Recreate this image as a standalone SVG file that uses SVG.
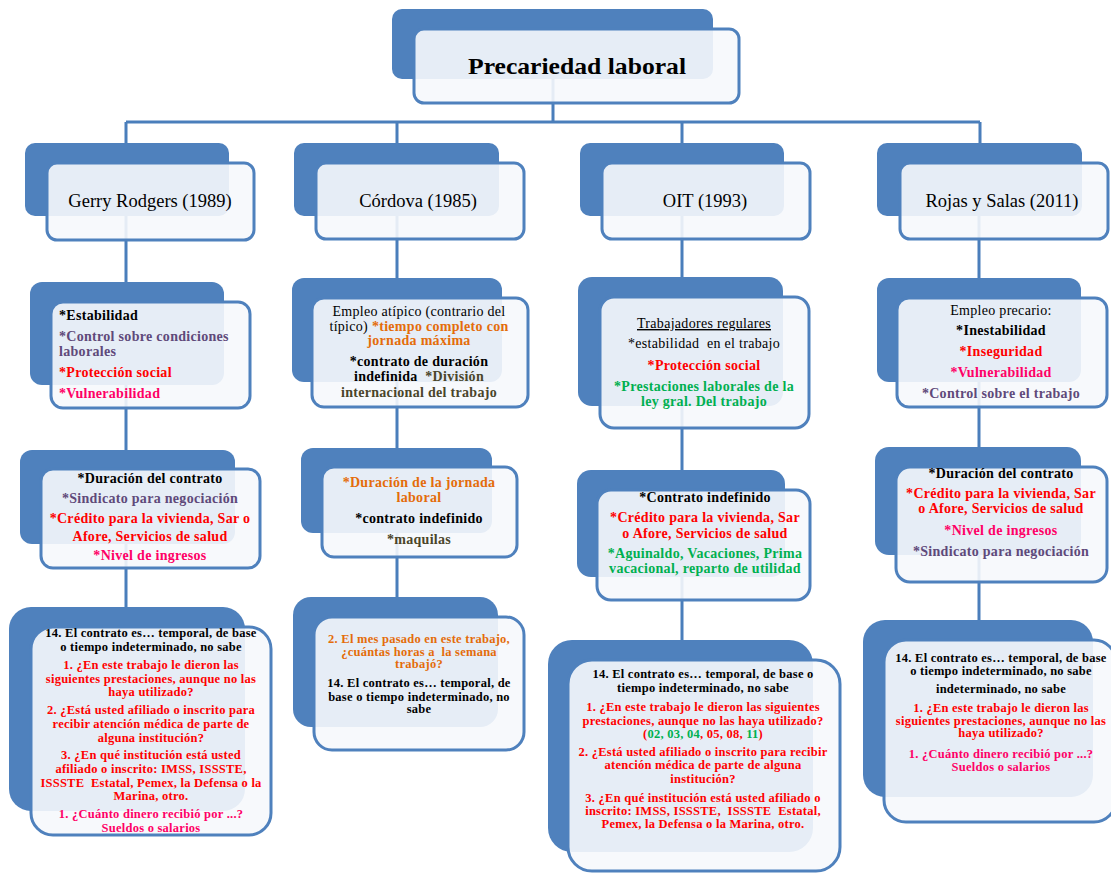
<svg xmlns="http://www.w3.org/2000/svg" width="1111" height="873" viewBox="0 0 1111 873">
<style>
.back{fill:#4F81BD}
.front{fill:#F6F8FC;fill-opacity:0.9;stroke:#4F81BD;stroke-width:3}
.conn{stroke:#4A7EBB;stroke-width:3;fill:none}
text{font-family:"Liberation Serif","Times New Roman",serif;fill:#000}
.c{text-anchor:middle}
.b{font-weight:bold}
.s{font-size:14px;letter-spacing:0.3px}
.x{font-size:12.5px;letter-spacing:0.25px}
.h{font-size:18.5px}
.k{fill:#000}
.pu{fill:#5F497A}
.r{fill:#FF0000}
.pk{fill:#FF0066}
.o{fill:#E46C0A}
.g{fill:#00B050}
.ol{fill:#4A452A}
</style>
<rect width="1111" height="873" fill="#ffffff"/>
<g id="connectors">
<path class="conn" d="M553 79V122M126 122H980M126 122V143M397 122V143M682 122V143M980 122V143"/>
<path class="conn" d="M126 216V282M126 385V450M126 544V607"/>
<path class="conn" d="M397 216V278M397 382V448M397 533V597"/>
<path class="conn" d="M682 216V277M682 406V470M682 577V640"/>
<path class="conn" d="M979 216V278M979 382V447M979 555V620"/>
</g>
<g id="root">
<rect class="back" x="392" y="9" width="321" height="70" rx="10"/>
<rect class="front" x="414" y="29" width="325" height="74" rx="10"/>
<text class="b c" x="577" y="74" font-size="24" textLength="218" lengthAdjust="spacingAndGlyphs">Precariedad laboral</text>
</g>
<g id="rodgers">
<rect class="back" x="25" y="143" width="204" height="73" rx="10"/>
<rect class="front" x="47" y="163" width="207" height="77" rx="10"/>
<text class="c h" x="150" y="207">Gerry Rodgers (1989)</text>
</g>
<g id="cordova">
<rect class="back" x="294" y="143" width="205" height="73" rx="10"/>
<rect class="front" x="316" y="163" width="208" height="76" rx="10"/>
<text class="c h" x="418" y="207">Córdova (1985)</text>
</g>
<g id="oit">
<rect class="back" x="580" y="143" width="204" height="73" rx="10"/>
<rect class="front" x="602" y="163" width="208" height="76" rx="10"/>
<text class="c h" x="705" y="207">OIT (1993)</text>
</g>
<g id="rojas">
<rect class="back" x="877" y="143" width="205" height="73" rx="10"/>
<rect class="front" x="900" y="163" width="208" height="76" rx="10"/>
<text class="c h" x="1002" y="207">Rojas y Salas (2011)</text>
</g>

<g id="rodgers-dim">
<rect class="back" x="30" y="282" width="194" height="103" rx="12"/>
<rect class="front" x="51" y="302" width="199" height="106" rx="12"/>
<text class="b s k" x="59" y="320">*Estabilidad</text>
<text class="b s pu" x="59" y="341">*Control sobre condiciones</text>
<text class="b s pu" x="59" y="356">laborales</text>
<text class="b s r" x="59" y="377">*Protección social</text>
<text class="b s pk" x="59" y="398">*Vulnerabilidad</text>
</g>
<g id="rodgers-ind">
<rect class="back" x="20" y="450" width="215" height="94" rx="12"/>
<rect class="front" x="41" y="469" width="219" height="99" rx="12"/>
<text class="b s c k" x="150" y="483">*Duración del contrato</text>
<text class="b s c pu" x="150" y="503">*Sindicato para negociación</text>
<text class="b s c r" x="150" y="523">*Crédito para la vivienda, Sar o</text>
<text class="b s c r" x="150" y="541">Afore, Servicios de salud</text>
<text class="b s c pk" x="150" y="560">*Nivel de ingresos</text>
</g>
<g id="rodgers-q">
<rect class="back" x="9" y="607" width="236" height="204" rx="22"/>
<rect class="front" x="31" y="627" width="240" height="208" rx="22"/>
<text class="b x c k" x="151" y="637">14. El contrato es… temporal, de base</text>
<text class="b x c k" x="151" y="651">o tiempo indeterminado, no sabe</text>
<text class="b x c r" x="151" y="669">1. ¿En este trabajo le dieron las</text>
<text class="b x c r" x="151" y="683">siguientes prestaciones, aunque no las</text>
<text class="b x c r" x="151" y="696">haya utilizado?</text>
<text class="b x c r" x="151" y="714">2. ¿Está usted afiliado o inscrito para</text>
<text class="b x c r" x="151" y="728">recibir atención médica de parte de</text>
<text class="b x c r" x="151" y="742">alguna institución?</text>
<text class="b x c r" x="151" y="759">3. ¿En qué institución está usted</text>
<text class="b x c r" x="151" y="773">afiliado o inscrito: IMSS, ISSSTE,</text>
<text class="b x c r" x="151" y="787">ISSSTE &#160;Estatal, Pemex, la Defensa o la</text>
<text class="b x c r" x="151" y="800">Marina, otro.</text>
<text class="b x c pk" x="151" y="818">1. ¿Cuánto dinero recibió por ...?</text>
<text class="b x c pk" x="151" y="832">Sueldos o salarios</text>
</g>

<g id="cordova-dim">
<rect class="back" x="292" y="278" width="210" height="104" rx="12"/>
<rect class="front" x="312" y="298" width="216" height="109" rx="12"/>
<text class="c s" x="419" y="316">Empleo atípico (contrario del</text>
<text class="c s" x="419" y="331">típico) <tspan class="b o">*tiempo completo con</tspan></text>
<text class="c s b o" x="419" y="345">jornada máxima</text>
<text class="c s b k" x="419" y="366">*contrato de duración</text>
<text class="c s b" x="419" y="381">indefinida &#160;<tspan class="ol">*División</tspan></text>
<text class="c s b ol" x="419" y="397">internacional del trabajo</text>
</g>
<g id="cordova-ind">
<rect class="back" x="301" y="448" width="191" height="85" rx="12"/>
<rect class="front" x="322" y="467" width="195" height="90" rx="12"/>
<text class="c s b o" x="419" y="487">*Duración de la jornada</text>
<text class="c s b o" x="419" y="502">laboral</text>
<text class="c s b k" x="419" y="523">*contrato indefinido</text>
<text class="c s b ol" x="419" y="544">*maquilas</text>
</g>
<g id="cordova-q">
<rect class="back" x="293" y="597" width="205" height="130" rx="18"/>
<rect class="front" x="314" y="617" width="210" height="133" rx="18"/>
<text class="b x c o" x="419" y="643">2. El mes pasado en este trabajo,</text>
<text class="b x c o" x="419" y="656">¿cuántas horas a &#160;la semana</text>
<text class="b x c o" x="419" y="668">trabajó?</text>
<text class="b x c k" x="419" y="687">14. El contrato es… temporal, de</text>
<text class="b x c k" x="419" y="701">base o tiempo indeterminado, no</text>
<text class="b x c k" x="419" y="713">sabe</text>
</g>

<g id="oit-dim">
<rect class="back" x="578" y="277" width="205" height="129" rx="14"/>
<rect class="front" x="600" y="297" width="209" height="131" rx="14"/>
<text class="c s" x="704" y="328" text-decoration="underline">Trabajadores regulares</text>
<text class="c s" x="704" y="348">*estabilidad &#160;en el trabajo</text>
<text class="c s b r" x="704" y="370">*Protección social</text>
<text class="c s b g" x="704" y="391">*Prestaciones laborales de la</text>
<text class="c s b g" x="704" y="406">ley gral. Del trabajo</text>
</g>
<g id="oit-ind">
<rect class="back" x="577" y="470" width="208" height="107" rx="14"/>
<rect class="front" x="597" y="490" width="213" height="110" rx="14"/>
<text class="c s b k" x="705" y="502">*Contrato indefinido</text>
<text class="c s b r" x="705" y="522">*Crédito para la vivienda, Sar</text>
<text class="c s b r" x="705" y="538">o Afore, Servicios de salud</text>
<text class="c s b g" x="705" y="558">*Aguinaldo, Vacaciones, Prima</text>
<text class="c s b g" x="705" y="573">vacacional, reparto de utilidad</text>
</g>
<g id="oit-q">
<rect class="back" x="548" y="640" width="265" height="212" rx="24"/>
<rect class="front" x="568" y="660" width="272" height="211" rx="24"/>
<text class="b x c k" x="703" y="678">14. El contrato es… temporal, de base o</text>
<text class="b x c k" x="703" y="692">tiempo indeterminado, no sabe</text>
<text class="b x c r" x="703" y="711">1. ¿En este trabajo le dieron las siguientes</text>
<text class="b x c r" x="703" y="725">prestaciones, aunque no las haya utilizado?</text>
<text class="b x c r" x="703" y="738">(<tspan class="g">02, 03, 04</tspan>, 05, 08, <tspan class="g">11</tspan>)</text>
<text class="b x c r" x="703" y="756">2. ¿Está usted afiliado o inscrito para recibir</text>
<text class="b x c r" x="703" y="769">atención médica de parte de alguna</text>
<text class="b x c r" x="703" y="783">institución?</text>
<text class="b x c r" x="703" y="802">3. ¿En qué institución está usted afiliado o</text>
<text class="b x c r" x="703" y="815">inscrito: IMSS, ISSSTE, &#160;ISSSTE &#160;Estatal,</text>
<text class="b x c r" x="703" y="828">Pemex, la Defensa o la Marina, otro.</text>
</g>

<g id="rojas-dim">
<rect class="back" x="877" y="278" width="204" height="104" rx="12"/>
<rect class="front" x="897" y="298" width="210" height="109" rx="12"/>
<text class="c s" x="1001" y="315">Empleo precario:</text>
<text class="c s b k" x="1001" y="335">*Inestabilidad</text>
<text class="c s b r" x="1001" y="356">*Inseguridad</text>
<text class="c s b pk" x="1001" y="377">*Vulnerabilidad</text>
<text class="c s b pu" x="1001" y="398">*Control sobre el trabajo</text>
</g>
<g id="rojas-ind">
<rect class="back" x="875" y="447" width="206" height="108" rx="14"/>
<rect class="front" x="896" y="467" width="211" height="115" rx="14"/>
<text class="c s b k" x="1001" y="478">*Duración del contrato</text>
<text class="c s b r" x="1001" y="498">*Crédito para la vivienda, Sar</text>
<text class="c s b r" x="1001" y="513">o Afore, Servicios de salud</text>
<text class="c s b pk" x="1001" y="535">*Nivel de ingresos</text>
<text class="c s b pu" x="1001" y="556">*Sindicato para negociación</text>
</g>
<g id="rojas-q">
<rect class="back" x="863" y="620" width="230" height="177" rx="22"/>
<rect class="front" x="884" y="640" width="232" height="182" rx="22"/>
<text class="b x c k" x="1001" y="662">14. El contrato es… temporal, de base</text>
<text class="b x c k" x="1001" y="675">o tiempo indeterminado, no sabe</text>
<text class="b x c k" x="1001" y="693">indeterminado, no sabe</text>
<text class="b x c r" x="1001" y="712">1. ¿En este trabajo le dieron las</text>
<text class="b x c r" x="1001" y="725">siguientes prestaciones, aunque no las</text>
<text class="b x c r" x="1001" y="737">haya utilizado?</text>
<text class="b x c pk" x="1001" y="758">1. ¿Cuánto dinero recibió por ...?</text>
<text class="b x c pk" x="1001" y="771">Sueldos o salarios</text>
</g>
</svg>
